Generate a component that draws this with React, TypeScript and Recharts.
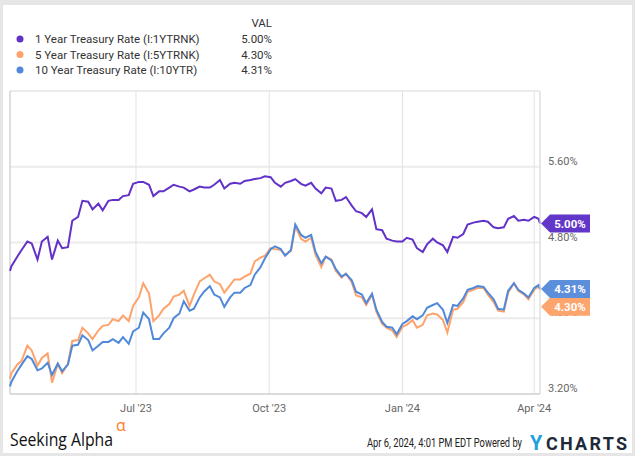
import { LineChart, Line, XAxis, YAxis, CartesianGrid, ReferenceLine } from 'recharts';

// twice-weekly samples
const dates = [
  '2023-04-05', '2023-04-06', '2023-04-10', '2023-04-13', '2023-04-17', '2023-04-20', '2023-04-24', '2023-04-27',
  '2023-05-01', '2023-05-04', '2023-05-08', '2023-05-11', '2023-05-15', '2023-05-18', '2023-05-22', '2023-05-25', '2023-05-29',
  '2023-06-01', '2023-06-05', '2023-06-08', '2023-06-12', '2023-06-15', '2023-06-19', '2023-06-22', '2023-06-26', '2023-06-29',
  '2023-07-03', '2023-07-06', '2023-07-10', '2023-07-13', '2023-07-17', '2023-07-20', '2023-07-24', '2023-07-27', '2023-07-31',
  '2023-08-03', '2023-08-07', '2023-08-10', '2023-08-14', '2023-08-17', '2023-08-21', '2023-08-24', '2023-08-28', '2023-08-31',
  '2023-09-04', '2023-09-07', '2023-09-11', '2023-09-14', '2023-09-18', '2023-09-21', '2023-09-25', '2023-09-28',
  '2023-10-02', '2023-10-05', '2023-10-09', '2023-10-12', '2023-10-16', '2023-10-19', '2023-10-23', '2023-10-26', '2023-10-30',
  '2023-11-02', '2023-11-06', '2023-11-09', '2023-11-13', '2023-11-16', '2023-11-20', '2023-11-23', '2023-11-27', '2023-11-30',
  '2023-12-04', '2023-12-07', '2023-12-11', '2023-12-14', '2023-12-18', '2023-12-21', '2023-12-25', '2023-12-28',
  '2024-01-01', '2024-01-04', '2024-01-08', '2024-01-11', '2024-01-15', '2024-01-18', '2024-01-22', '2024-01-25', '2024-01-29',
  '2024-02-01', '2024-02-05', '2024-02-08', '2024-02-12', '2024-02-15', '2024-02-19', '2024-02-22', '2024-02-26', '2024-02-29',
  '2024-03-04', '2024-03-07', '2024-03-11', '2024-03-14', '2024-03-18', '2024-03-21', '2024-03-25', '2024-03-28',
  '2024-04-01', '2024-04-04', '2024-04-05',
];

const oneYearRates = [
  4.50, 4.55, 4.65, 4.72, 4.81, 4.79, 4.62, 4.81,
  4.86, 4.62, 4.82, 4.74, 4.75, 5.03, 5.07, 5.24, 5.23,
  5.15, 5.21, 5.14, 5.24, 5.25, 5.25, 5.29, 5.30, 5.42,
  5.44, 5.44, 5.41, 5.29, 5.34, 5.34, 5.38, 5.41, 5.39,
  5.38, 5.34, 5.36, 5.39, 5.38, 5.38, 5.41, 5.46, 5.37,
  5.42, 5.43, 5.42, 5.45, 5.46, 5.47, 5.48, 5.50,
  5.49, 5.43, 5.39, 5.43, 5.45, 5.47, 5.42, 5.40, 5.43,
  5.37, 5.32, 5.38, 5.37, 5.24, 5.25, 5.28, 5.19, 5.13,
  5.11, 5.07, 5.15, 4.94, 4.93, 4.84, 4.82, 4.81,
  4.81, 4.85, 4.83, 4.74, 4.70, 4.78, 4.84, 4.80, 4.77,
  4.70, 4.86, 4.85, 4.89, 4.99, 5.01, 5.02, 5.03, 5.02,
  4.96, 4.95, 4.96, 5.05, 5.08, 5.03, 5.04, 5.03,
  5.07, 5.05, 5.00,
];

const fiveYearRates = [
  3.36, 3.42, 3.51, 3.55, 3.71, 3.66, 3.50, 3.58,
  3.63, 3.32, 3.52, 3.42, 3.52, 3.76, 3.77, 3.90, 3.84,
  3.78, 3.87, 3.92, 3.93, 3.99, 3.97, 4.03, 3.97, 4.13,
  4.22, 4.37, 4.26, 3.97, 4.03, 4.10, 4.15, 4.23, 4.25,
  4.29, 4.13, 4.25, 4.39, 4.42, 4.46, 4.39, 4.36, 4.27,
  4.35, 4.41, 4.41, 4.44, 4.47, 4.60, 4.64, 4.66,
  4.74, 4.73, 4.72, 4.67, 4.71, 4.97, 4.84, 4.81, 4.85,
  4.67, 4.54, 4.65, 4.62, 4.50, 4.43, 4.47, 4.38, 4.24,
  4.22, 4.14, 4.25, 4.07, 3.94, 3.90, 3.87, 3.80,
  3.91, 3.93, 3.98, 3.90, 3.93, 4.03, 4.05, 4.04, 3.98,
  3.85, 4.09, 4.10, 4.17, 4.28, 4.30, 4.32, 4.32, 4.25,
  4.17, 4.08, 4.07, 4.27, 4.37, 4.29, 4.25, 4.20,
  4.30, 4.34, 4.30,
];

const tenYearRates = [
  3.28, 3.33, 3.44, 3.51, 3.60, 3.57, 3.45, 3.47,
  3.53, 3.40, 3.52, 3.44, 3.51, 3.71, 3.72, 3.82, 3.77,
  3.66, 3.71, 3.75, 3.75, 3.78, 3.74, 3.80, 3.73, 3.86,
  3.90, 4.06, 3.99, 3.78, 3.78, 3.84, 3.90, 4.00, 4.05,
  4.18, 4.08, 4.10, 4.22, 4.28, 4.34, 4.25, 4.22, 4.12,
  4.22, 4.27, 4.27, 4.32, 4.35, 4.46, 4.54, 4.63,
  4.73, 4.76, 4.73, 4.66, 4.72, 4.99, 4.88, 4.85, 4.88,
  4.70, 4.58, 4.65, 4.61, 4.52, 4.44, 4.47, 4.40, 4.28,
  4.25, 4.16, 4.26, 4.09, 3.96, 3.91, 3.90, 3.83,
  3.94, 3.97, 4.02, 3.99, 4.03, 4.11, 4.14, 4.16, 4.09,
  3.95, 4.14, 4.13, 4.21, 4.30, 4.32, 4.34, 4.33, 4.27,
  4.20, 4.10, 4.09, 4.29, 4.37, 4.30, 4.26, 4.22,
  4.32, 4.35, 4.31,
];

const seriesNames = [
  '1 Year Treasury Rate (I:1YTRNK)',
  '5 Year Treasury Rate (I:5YTRNK)',
  '10 Year Treasury Rate (I:10YTR)',
];
const seriesKeys = ['oneYear', 'fiveYear', 'tenYear'];
const seriesValues = [oneYearRates, fiveYearRates, tenYearRates];

const tickDates = ['2023-07-01', '2023-10-01', '2024-01-01', '2024-04-01'];
const tickLabels = ["Jul '23", "Oct '23", "Jan '24", "Apr '24"];
const yTicks = [3.2, 4.0, 4.8, 5.6, 6.4];

const COLORS = ['#6131c8', '#fda36b', '#5089da'];
const TAG_COLORS = ['#6236c9', '#fea56e', '#5b8fdc'];
const TAG_SHIFT = [0, 17, 0];

const FONT = 'Roboto, "Noto Sans", sans-serif';

const data = dates.map((d, i) => ({
  t: Date.parse(d),
  oneYear: oneYearRates[i],
  fiveYear: fiveYearRates[i],
  tenYear: tenYearRates[i],
}));

const xStart = Date.parse(dates[0]);
const xEnd = Date.parse(dates[dates.length - 1]);
const xTicks = tickDates.map((d) => Date.parse(d));
const lastIdx = dates.length - 1;

const XTick = ({ x, y, payload }: any) => (
  <text x={x} y={y + 10} textAnchor="middle" fontSize={11} fill="#666" fontFamily={FONT}>
    {tickLabels[xTicks.indexOf(payload.value)]}
  </text>
);

const YTick = ({ x, y, payload }: any) => {
  if (payload.value > 6) return <g />;
  return (
    <text x={x} y={y - 2} textAnchor="start" fontSize={11} fill="#666" fontFamily={FONT}>
      {payload.value.toFixed(2)}%
    </text>
  );
};

// end-of-line value tag, drawn as the label of the last point only
const makeTag = (i: number) => (props: any) => {
  const { x: px, y: py, index } = props;
  if (index !== lastIdx) return <g />;
  const x = px + 1;
  const y = py + TAG_SHIFT[i];
  return (
    <g>
      <path
        d={`M${x},${y} L${x + 9},${y - 9} L${x + 49},${y - 9} L${x + 49},${y + 9} L${x + 9},${y + 9} Z`}
        fill={TAG_COLORS[i]}
      />
      <text x={x + 29} y={y + 4} textAnchor="middle" fontSize={11.5} fontWeight={700} fill="#fff" fontFamily={FONT}>
        {seriesValues[i][lastIdx].toFixed(2)}%
      </text>
    </g>
  );
};

export default function App() {
  return (
    <div style={{ position: 'absolute', left: 0, top: 0, width: 635, height: 456, background: '#fff' }}>
      <LineChart width={635} height={456} data={data} margin={{ top: 91, right: 35, bottom: 42, left: 10 }}>
        <CartesianGrid vertical={false} stroke="#ebebeb" strokeWidth={2} />
        <CartesianGrid horizontal={false} stroke="#e2e2e2" />
        <XAxis
          dataKey="t"
          type="number"
          domain={[xStart, xEnd]}
          ticks={xTicks}
          height={20}
          axisLine={{ stroke: '#cccccc' }}
          tickLine={false}
          tick={XTick}
        />
        <YAxis
          orientation="right"
          width={60}
          domain={[3.2, 6.4]}
          ticks={yTicks}
          axisLine={{ stroke: '#dddddd' }}
          tickLine={false}
          tick={YTick}
        />
        <ReferenceLine x={xStart} stroke="#cccccc" />
        {seriesKeys.map((k, i) => (
          <Line
            key={k}
            dataKey={k}
            stroke={COLORS[i]}
            strokeWidth={2}
            dot={false}
            isAnimationActive={false}
          />
        ))}
      </LineChart>
      {/* value tags sit above the axis labels, so they get their own layer on the same scales */}
      <div style={{ position: 'absolute', left: 0, top: 0, pointerEvents: 'none' }}>
        <LineChart width={635} height={456} data={data} margin={{ top: 91, right: 95, bottom: 62, left: 10 }}>
          <XAxis dataKey="t" type="number" domain={[xStart, xEnd]} hide />
          <YAxis domain={[3.2, 6.4]} hide />
          {seriesKeys.map((k, i) => (
            <Line
              key={`tag-${k}`}
              dataKey={k}
              stroke="none"
              dot={false}
              isAnimationActive={false}
              label={makeTag(i)}
            />
          ))}
        </LineChart>
      </div>
      <svg
        width={635}
        height={456}
        style={{ position: 'absolute', left: 0, top: 0, pointerEvents: 'none' }}
      >
        <rect x={1.5} y={2.5} width={632} height={452} fill="none" stroke="#e6e6e6" strokeWidth={3} />
        <rect x={0} y={0} width={635} height={5} fill="#e6e6e6" />
        <text x={272} y={27} textAnchor="end" fontSize={11.5} fill="#333" fontFamily={FONT}>VAL</text>
        {seriesNames.map((name, i) => (
          <g key={name}>
            <circle cx={20} cy={39 + i * 15.5} r={3.5} fill={COLORS[i]} />
            <text x={35} y={43 + i * 15.5} fontSize={11.5} fill="#333" fontFamily={FONT}>{name}</text>
            <text x={272} y={43 + i * 15.5} textAnchor="end" fontSize={11.5} fill="#333" fontFamily={FONT}>
              {seriesValues[i][lastIdx].toFixed(2)}%
            </text>
          </g>
        ))}
        <text x={10} y={446} fontSize={19} fill="#111" fontFamily='"Open Sans", sans-serif' textLength={103} lengthAdjust="spacingAndGlyphs">
          Seeking Alpha
        </text>
        <text x={116} y={431} fontSize={16} fill="#ff7d1a" fontFamily='"Open Sans", sans-serif'>α</text>
        <text x={367} y={447} fontSize={12} fill="#222" fontFamily={FONT} textLength={155} lengthAdjust="spacingAndGlyphs">
          Apr 6, 2024, 4:01 PM EDT Powered by
        </text>
        <text x={530} y={450} fontSize={20} fontWeight={700} fill="#22a0dd" fontFamily={FONT}>Y</text>
        <text x={546} y={450} fontSize={18} fontWeight={700} fill="#1e2a38" fontFamily={FONT} textLength={81} lengthAdjust="spacing">
          CHARTS
        </text>
      </svg>
    </div>
  );
}
